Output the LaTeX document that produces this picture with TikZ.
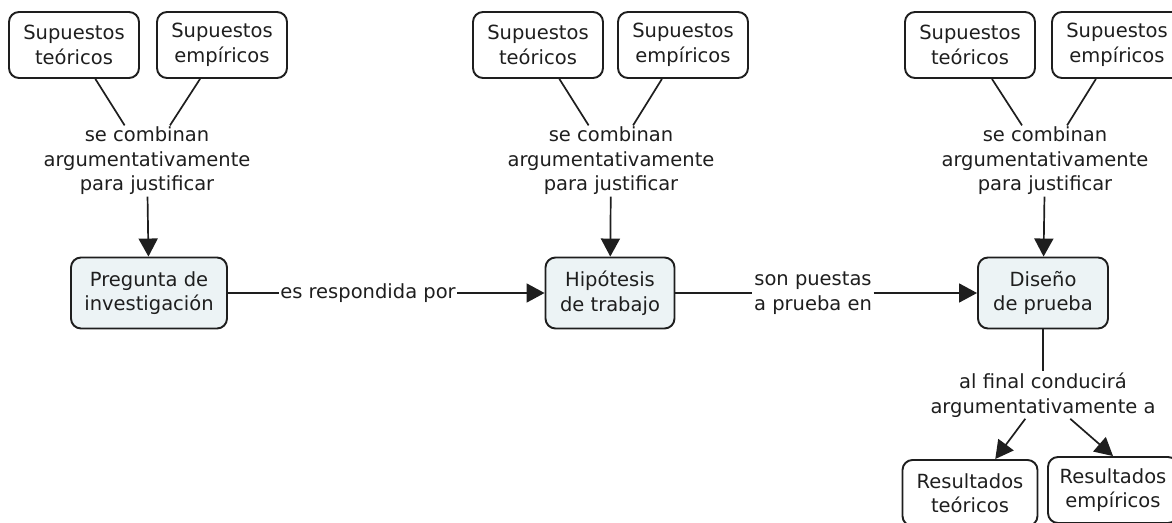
\documentclass[tikz,border=0pt]{standalone}
\usepackage{fontspec}
\setmainfont{DejaVu Sans}
\usepackage{tikz}
\usetikzlibrary{arrows.meta, positioning}
\definecolor{conceptfill}{RGB}{236,243,245}
\definecolor{linkgray}{RGB}{30,30,30}

\begin{document}
\begin{tikzpicture}[x=1pt, y=-1pt,
    every node/.style={font=\fontsize{19.5}{24.5}\selectfont, text=linkgray},
    supuesto/.style={draw=linkgray, line width=1.9pt, rounded corners=10pt, align=center, minimum width=130pt, minimum height=66pt, inner sep=2pt},
    concepto/.style={supuesto, fill=conceptfill, minimum height=71pt},
    enlace/.style={align=center, inner sep=1.5pt},
    conector/.style={draw=linkgray, line width=1.7pt},
    flecha/.style={conector, -{Triangle[length=18pt, width=19pt]}}]
    \useasboundingbox (0,0) rectangle (1172,522);

    % Group 1
    \node[supuesto] (teo1) at (74,45) {Supuestos\\teóricos};
    \node[supuesto] (emp1) at (222,45) {Supuestos\\empíricos};
    \node[enlace] (comb1) at (147,161) {se combinan\\argumentativamente\\para justificar};
    \node[concepto, minimum width=156pt] (preg) at (149,293) {Pregunta de\\investigación};
    \draw[conector] (teo1) -- (comb1);
    \draw[conector] (emp1) -- (comb1);
    \draw[flecha] (comb1) -- (preg);

    % Group 2
    \node[supuesto] (teo2) at (538,45) {Supuestos\\teóricos};
    \node[supuesto] (emp2) at (683,45) {Supuestos\\empíricos};
    \node[enlace] (comb2) at (611,161) {se combinan\\argumentativamente\\para justificar};
    \node[concepto, minimum width=129pt] (hip) at (610,293) {Hipótesis\\de trabajo};
    \draw[conector] (teo2) -- (comb2);
    \draw[conector] (emp2) -- (comb2);
    \draw[flecha] (comb2) -- (hip);

    % Group 3
    \node[supuesto] (teo3) at (970,45) {Supuestos\\teóricos};
    \node[supuesto] (emp3) at (1117,45) {Supuestos\\empíricos};
    \node[enlace] (comb3) at (1045,161) {se combinan\\argumentativamente\\para justificar};
    \node[concepto] (dis) at (1043,293) {Diseño\\de prueba};
    \draw[conector] (teo3) -- (comb3);
    \draw[conector] (emp3) -- (comb3);
    \draw[flecha] (comb3) -- (dis);

    % Links between concepts
    \node[enlace] (resp) at (368,293) {es respondida por};
    \draw[conector] (preg) -- (resp);
    \draw[flecha] (resp) -- (hip);
    \node[enlace] (puestas) at (813,293) {son puestas\\a prueba en};
    \draw[conector] (hip) -- (puestas);
    \draw[flecha] (puestas) -- (dis);

    % Results
    \node[enlace] (conduce) at (1043,395) {al final conducirá\\argumentativamente a};
    \node[supuesto, minimum width=135pt] (rteo) at (970,493) {Resultados\\teóricos};
    \node[supuesto] (remp) at (1113,490) {Resultados\\empíricos};
    \draw[conector] (dis) -- (conduce);
    \draw[flecha] (conduce) -- (rteo);
    \draw[flecha] (conduce) -- (remp.north);
\end{tikzpicture}
\end{document}
